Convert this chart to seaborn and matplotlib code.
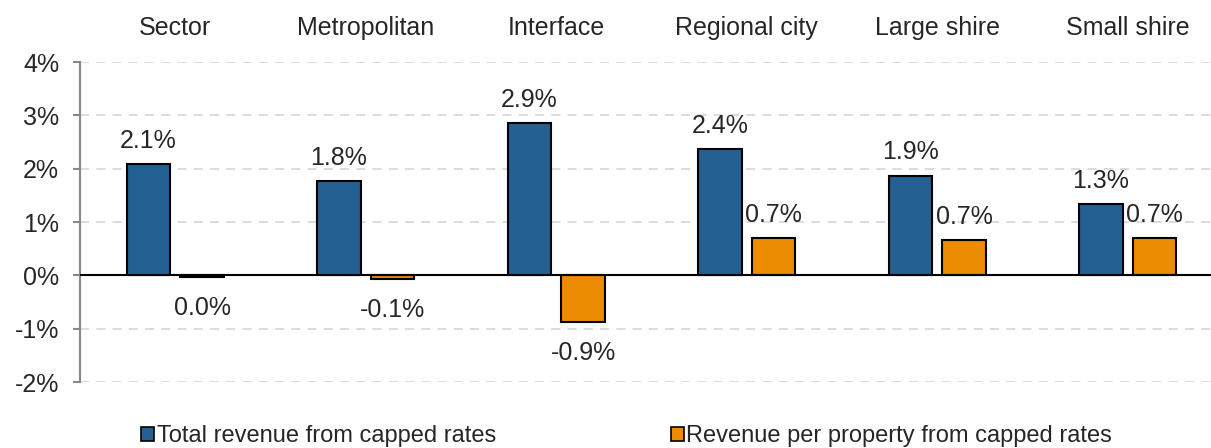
import pandas as pd
import numpy as np
import matplotlib
matplotlib.use("Agg")
import matplotlib.pyplot as plt
import seaborn as sns

# chart data
groups = ["Sector", "Metropolitan", "Interface", "Regional city", "Large shire", "Small shire"]
series = ["Total revenue from capped rates", "Revenue per property from capped rates"]
total_revenue = [2.08, 1.76, 2.86, 2.36, 1.87, 1.34]
per_property = [-0.03, -0.06, -0.87, 0.70, 0.66, 0.70]
y_ticks = [-2, -1, 0, 1, 2, 3, 4]

colors = ["#246192", "#EC8C00"]

df = pd.DataFrame({
    "group": groups * 2,
    "series": [series[0]] * len(groups) + [series[1]] * len(groups),
    "value": total_revenue + per_property,
})

sns.set_style("white")
plt.rcParams["font.family"] = ["Liberation Sans", "DejaVu Sans"]

fig = plt.figure(figsize=(12.11, 4.48), dpi=100)
ax = fig.add_axes([80 / 1211, 1 - 382 / 448, (1223 - 80) / 1211, 320 / 448])

sns.barplot(data=df, x="group", y="value", hue="series", order=groups,
            hue_order=series, palette=colors, saturation=1, width=0.563, gap=0.187,
            edgecolor="black", linewidth=1.5, ax=ax)

# value labels
for container, vals in zip(ax.containers, [total_revenue, per_property]):
    for bar, v in zip(container, vals):
        x = bar.get_x() + bar.get_width() / 2
        txt = f"{round(v, 1) + 0.0:.1f}%"
        if v >= 0:
            ax.annotate(txt, (x, v), xytext=(0, 8), textcoords="offset points",
                        ha="center", va="bottom", fontsize=18)
        else:
            ax.annotate(txt, (x, v), xytext=(0, -14), textcoords="offset points",
                        ha="center", va="top", fontsize=18)

ax.axhline(0, color="black", lw=1.5, zorder=3)

ax.set_ylim(-2, 4)
ax.set_xlim(-0.5, len(groups) - 0.5)
ax.set_yticks(y_ticks)
ax.set_yticklabels([f"{t}%" for t in y_ticks], fontsize=18)
ax.yaxis.grid(True, linestyle=(0, (5, 4)), color="#d9d9d9", lw=1.3)
ax.set_axisbelow(True)
ax.tick_params(axis="y", which="major", length=5, width=1.5, color="#888888",
               left=True, pad=10)

ax.xaxis.tick_top()
ax.tick_params(axis="x", length=0, pad=16, labelsize=18)
ax.set_xlabel("")
ax.set_ylabel("")

for side in ["top", "right", "bottom"]:
    ax.spines[side].set_visible(False)
ax.spines["left"].set_color("#888888")
ax.spines["left"].set_linewidth(1.5)

handles, labels = ax.get_legend_handles_labels()
for h in handles:
    h.set_edgecolor("black")
    h.set_linewidth(1.2)
ax.legend(handles, labels, loc="center", bbox_to_anchor=(0.5 - 25 / 1143, -0.17),
          ncol=2, frameon=False, fontsize=17, handlelength=0.55, handleheight=0.55,
          handletextpad=0.1, columnspacing=7.4, borderaxespad=0)

fig.savefig("out.png", dpi=100)
